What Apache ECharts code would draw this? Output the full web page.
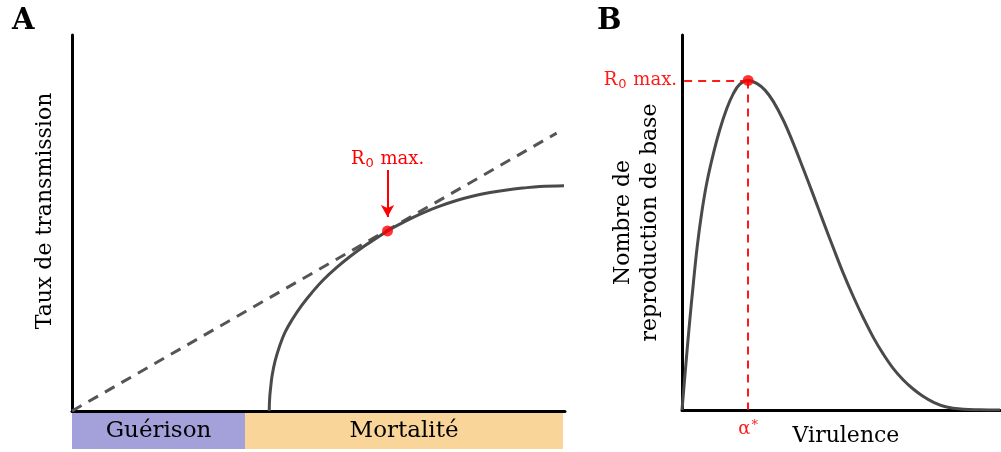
<!DOCTYPE html>
<html>
<head>
<meta charset="utf-8">
<script src="https://cdn.jsdelivr.net/npm/echarts@6/dist/echarts.min.js"></script>
<style>
html, body { margin: 0; padding: 0; background: #fff; }
#main { width: 1001px; height: 452px; }
</style>
</head>
<body>
<div id="main"></div>
<script>
// panel A : taux de transmission (0..100 on both axes)
const transmissionCurve = [
    [40.0, 0], [40.1, 3.5], [40.3, 6.3], [40.6, 9.5], [41.2, 13.3], [42.1, 17.2],
    [43.2, 20.9], [44.8, 24.6], [46.6, 28.1], [48.6, 31.4], [51.0, 34.9],
    [53.7, 38.2], [56.4, 41.1], [59.1, 43.7], [61.8, 46.0], [64.0, 47.9],
    [66.5, 49.7], [69.2, 51.5], [71.9, 53.1], [74.6, 54.5], [78.0, 56.0],
    [81.4, 57.2], [84.8, 58.1], [88.2, 58.8], [91.5, 59.3], [94.9, 59.7], [99.8, 59.9]
]
const tangentLine = [[0, 0], [98.3, 73.9]]
const r0MaxA = [64.0, 47.9]
const arrowA = [[64.0, 64.1], [64.0, 51.6]]

// bande sous l'axe
const bandNames = ['Guérison', 'Mortalité']
const bandValues = [35.1, 64.5]
const bandColors = ['#a3a0da', '#f9d59a']

// panel B : nombre de reproduction de base vs virulence
const virulenceCurve = [
    [0, 0], [1.2, 12.0], [2.4, 23.5], [3.6, 34.0], [4.8, 43.7], [6.2, 52.6],
    [7.8, 60.6], [9.9, 68.5], [11.9, 74.8], [14.0, 80.2], [16.1, 84.3],
    [18.2, 86.9], [20.8, 87.9], [23.5, 87.1], [26.1, 85.3], [28.7, 82.3],
    [31.9, 77.2], [35.0, 71.1], [38.1, 64.4], [41.3, 57.3], [44.4, 50.3],
    [47.6, 43.2], [50.7, 36.5], [53.9, 30.2], [57.0, 24.6], [60.2, 19.3],
    [63.3, 14.9], [66.4, 11.1], [69.6, 8.0], [72.7, 5.6], [75.9, 3.6],
    [79.0, 2.1], [83.2, 0.8], [88.5, 0.2], [93.7, 0.05], [100, 0]
]
const r0MaxB = [20.8, 87.9]

const FONT = 'DejaVu Serif'
const RED = '#ff0000'
const GREY = '#4a4a4a'

const chart = echarts.init(document.getElementById('main'), null, { renderer: 'canvas' })

const blackAxis = { show: true, lineStyle: { color: '#000', width: 3 } }
function valueAxis(idx, extra) {
    return Object.assign({
        type: 'value', gridIndex: idx, min: 0, max: 100,
        axisLine: blackAxis, axisTick: { show: false }, axisLabel: { show: false },
        splitLine: { show: false }
    }, extra)
}

const richR0 = {
    r: { fontFamily: FONT, fontSize: 18, color: RED },
    s: { fontFamily: 'DejaVu Sans', fontSize: 13, color: RED, padding: [9, 1, 0, 1] }
}

chart.setOption({
    animation: false,
    title: [
        { text: 'A', left: 7, top: 2, textStyle: { fontFamily: FONT, fontWeight: 'bold', fontSize: 29, color: '#000' } },
        { text: 'B', left: 592, top: 2, textStyle: { fontFamily: FONT, fontWeight: 'bold', fontSize: 29, color: '#000' } }
    ],
    grid: [
        { left: 72, right: 436, top: 35, bottom: 41 },
        { left: 72, right: 436, top: 413, height: 36 },
        { left: 682, right: 1, top: 35, bottom: 41 }
    ],
    xAxis: [
        valueAxis(0),
        valueAxis(1, { show: false }),
        valueAxis(2, {
            name: 'Virulence', nameLocation: 'middle', nameGap: 15,
            nameTextStyle: { fontFamily: FONT, fontSize: 22, color: '#000', padding: [0, 0, 0, 10] }
        })
    ],
    yAxis: [
        valueAxis(0, {
            name: 'Taux de transmission', nameLocation: 'middle', nameGap: 16,
            nameTextStyle: { fontFamily: FONT, fontSize: 22, color: '#000', padding: [0, 0, 0, 24] }
        }),
        { type: 'category', gridIndex: 1, data: ['bande'], show: false },
        valueAxis(2, {
            name: 'Nombre de\nreproduction de base', nameLocation: 'middle', nameGap: 18,
            nameTextStyle: { fontFamily: FONT, fontSize: 22, color: '#000', lineHeight: 27 }
        })
    ],
    series: [
        {
            type: 'line', xAxisIndex: 0, yAxisIndex: 0, data: tangentLine,
            showSymbol: false, lineStyle: { color: '#555', width: 3, type: [11, 8] }
        },
        {
            type: 'line', xAxisIndex: 0, yAxisIndex: 0, data: transmissionCurve,
            smooth: 0.4, showSymbol: false, lineStyle: { color: GREY, width: 3 }
        },
        {
            type: 'scatter', xAxisIndex: 0, yAxisIndex: 0, data: [r0MaxA],
            symbolSize: 11, itemStyle: { color: RED }, z: 5,
            markLine: {
                silent: true, symbol: ['none', 'arrow'], symbolSize: [10, 12],
                lineStyle: { color: RED, width: 2, type: 'solid' },
                label: {
                    show: true, position: 'start', distance: 0,
                    formatter: '{r|R}{s|0}{r| max.}', rich: richR0
                },
                data: [[{ coord: arrowA[0] }, { coord: arrowA[1] }]]
            }
        },
        ...bandNames.map((name, i) => ({
            type: 'bar', name: name, xAxisIndex: 1, yAxisIndex: 1, stack: 'bande',
            data: [bandValues[i]], barWidth: 36,
            itemStyle: { color: bandColors[i] },
            label: { show: true, position: 'inside', formatter: name, fontFamily: FONT, fontSize: 23, color: '#000' }
        })),
        {
            type: 'line', xAxisIndex: 2, yAxisIndex: 2, data: virulenceCurve,
            smooth: 0.4, showSymbol: false, lineStyle: { color: GREY, width: 3 }
        },
        {
            type: 'scatter', xAxisIndex: 2, yAxisIndex: 2, data: [r0MaxB],
            symbolSize: 11, itemStyle: { color: RED }, z: 5,
            markLine: {
                silent: true, symbol: 'none',
                lineStyle: { color: RED, width: 2, type: [8, 6], opacity: 0.9 },
                label: {
                    show: true, position: 'end', distance: [5, 9],
                    formatter: p => p.dataIndex === 0 ? '{r|R}{s|0}{r| max.}' : '{r|α}{t|*}',
                    rich: Object.assign({
                        t: { fontFamily: FONT, fontSize: 13, color: RED, padding: [0, 0, 8, 1] }
                    }, richR0)
                },
                data: [
                    [{ coord: r0MaxB }, { coord: [0, r0MaxB[1]] }],
                    [{ coord: r0MaxB }, { coord: [r0MaxB[0], 0] }]
                ]
            }
        }
    ]
})
</script>
</body>
</html>
